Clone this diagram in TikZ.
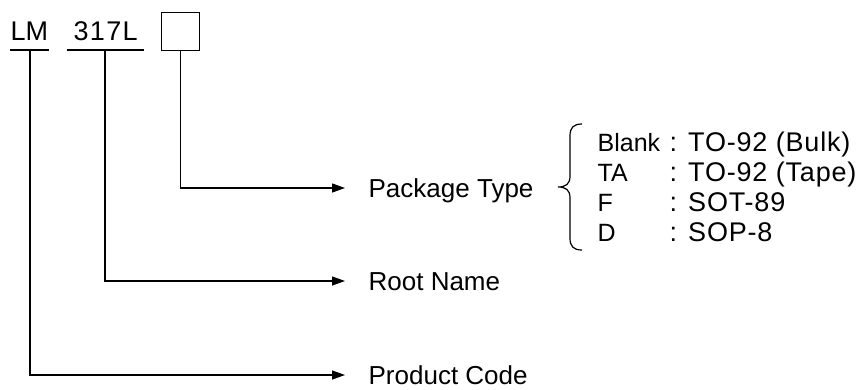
\documentclass[tikz,border=0pt]{standalone}
\usepackage{fontspec}
\setmainfont{Liberation Sans}
\usetikzlibrary{arrows.meta}
\begin{document}
\begin{tikzpicture}[x=1pt,y=-1pt,line width=1.3pt,
  arr/.style={-{Triangle[length=13pt,width=9pt]},shorten >=23pt},
  toplbl/.style={anchor=base west,inner sep=0pt,font=\fontsize{27}{32}\selectfont},
  lbl/.style={anchor=west,inner sep=0pt,text height=18.6pt,text depth=0pt,font=\fontsize{26}{31}\selectfont},
  optlbl/.style={anchor=west,inner sep=0pt,text height=18pt,text depth=0pt,font=\fontsize{25}{30}\selectfont},
  vallbl/.style={anchor=west,inner sep=0pt,text height=19pt,text depth=0pt,font=\fontsize{27}{32}\selectfont\addfontfeature{LetterSpace=3}}]
\useasboundingbox (0,0) rectangle (867,389);
% top labels
\node[toplbl] (lm) at (10,40) {LM};
\node[toplbl,font=\fontsize{27}{32}\selectfont\addfontfeature{LetterSpace=5}] (num) at (73,40) {317L};
\node[draw,minimum width=38pt,minimum height=38pt,inner sep=0pt,anchor=north west] (box) at (161,12) {};
% underlines
\draw (10,50) -- (49,50);
\draw (67,50) -- (144,50);
\coordinate (lmc) at (30,50);
\coordinate (numc) at (105,50);
% target labels
\node[lbl] (pkg) at (368,188) {Package Type};
\node[lbl] (root) at (368,281) {Root Name};
\node[lbl] (prod) at (368,375) {Product Code};
% connectors
\draw[arr] (box.south) |- (pkg.west);
\draw[arr] (numc) |- (root.west);
\draw[arr] (lmc) |- (prod.west);
% brace
\draw[line width=1.2pt] (582,124) .. controls (573,124) and (570,128) .. (570,136) -- (570,176)
  .. controls (570,184) and (566,187) .. (558,187)
  .. controls (566,187) and (570,190) .. (570,198) -- (570,238)
  .. controls (570,246) and (573,250) .. (582,250);
% options
\node[optlbl] (o1) at (597,142) {Blank};
\node[optlbl] (o2) at (597,172) {TA};
\node[optlbl] (o3) at (597,202) {F};
\node[optlbl] (o4) at (597,232) {D};
\node[vallbl] (v1) at (669,142) {: TO-92 (Bulk)};
\node[vallbl] (v2) at (669,172) {: TO-92 (Tape)};
\node[vallbl] (v3) at (669,202) {: SOT-89};
\node[vallbl] (v4) at (669,232) {: SOP-8};
\end{tikzpicture}
\end{document}
